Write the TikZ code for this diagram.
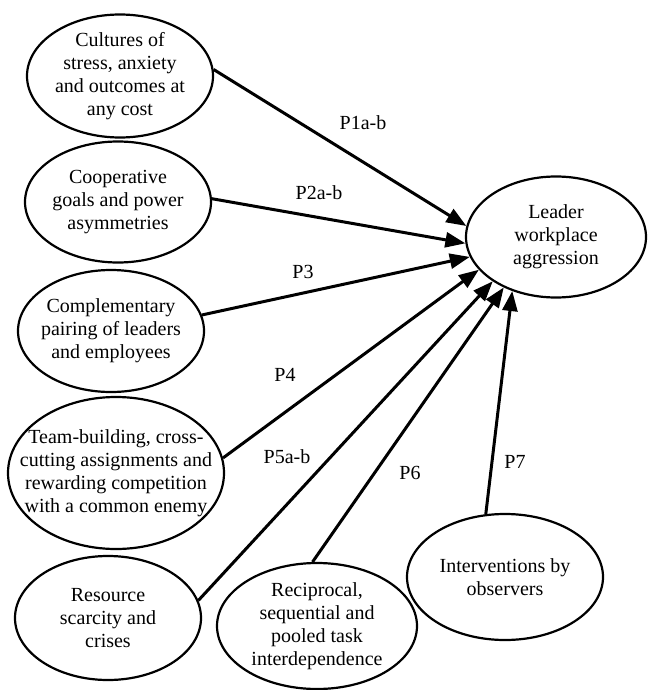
\documentclass[tikz,border=0pt]{standalone}
\usepackage{fontspec}
\setmainfont{Liberation Serif}
\usetikzlibrary{shapes.geometric,arrows.meta}
\begin{document}
\begin{tikzpicture}[x=1pt,y=-1pt,
  ell/.style={draw, ellipse, line width=2.2pt, inner sep=0pt},
  txt/.style={align=center, font=\fontsize{20}{23}\selectfont, inner sep=0pt},
  lab/.style={font=\fontsize{20}{23}\selectfont, inner sep=0pt},
  arr/.style={line width=3pt, -{Triangle[length=20pt,width=15pt]}}]
\useasboundingbox[fill=white] (0,0) rectangle (650,690);
% ellipses
\node[ell, minimum width=186pt, minimum height=123pt] (c1) at (120,76) {};
\node[txt] (c1t) at (c1) {Cultures of\\stress, anxiety\\and outcomes at\\any cost};
\node[ell, minimum width=186pt, minimum height=121pt] (c2) at (118,202) {};
\node[txt] (c2t) at (c2) {Cooperative\\goals and power\\asymmetries};
\node[ell, minimum width=186pt, minimum height=122pt] (c3) at (111,331) {};
\node[txt] (c3t) at (c3) {Complementary\\pairing of leaders\\and employees};
\node[ell, minimum width=216pt, minimum height=152pt] (c4) at (116,473) {};
\node[txt] (c4t) at (c4) {Team-building, cross-\\cutting assignments and\\rewarding competition\\with a common enemy};
\node[ell, minimum width=186pt, minimum height=124pt] (c5) at (108,618) {};
\node[txt] (c5t) at (c5) {Resource\\scarcity and\\crises};
\node[ell, minimum width=200pt, minimum height=126pt] (c6) at (317,626) {};
\node[txt] (c6t) at (c6) {Reciprocal,\\sequential and\\pooled task\\interdependence};
\node[ell, minimum width=196pt, minimum height=126pt] (c7) at (505,577) {};
\node[txt] (c7t) at (c7) {Interventions by\\observers};
\node[ell, minimum width=180pt, minimum height=121pt] (L) at (556,237) {};
\node[txt] (Lt) at (L) {Leader\\workplace\\aggression};
% arrows
\draw[arr] (c1.4) -- (L.173);
\draw[arr] (c2.2) -- (L.184);
\draw[arr] (c3.10) -- (L.193);
\draw[arr] (c4.8) -- (L.203);
\draw[arr] (c5.11) -- (L.215);
\draw[arr] (c6.94) -- (L.224);
\draw[arr] (c7.107) -- (L.231);
% labels
\node[lab] (p1) at (363,123) {P1a-b};
\node[lab] (p2) at (319,193) {P2a-b};
\node[lab] (p3) at (303,272) {P3};
\node[lab] (p4) at (285,375) {P4};
\node[lab] (p5) at (287,457) {P5a-b};
\node[lab] (p6) at (410,473) {P6};
\node[lab] (p7) at (515,462) {P7};
\end{tikzpicture}
\end{document}
